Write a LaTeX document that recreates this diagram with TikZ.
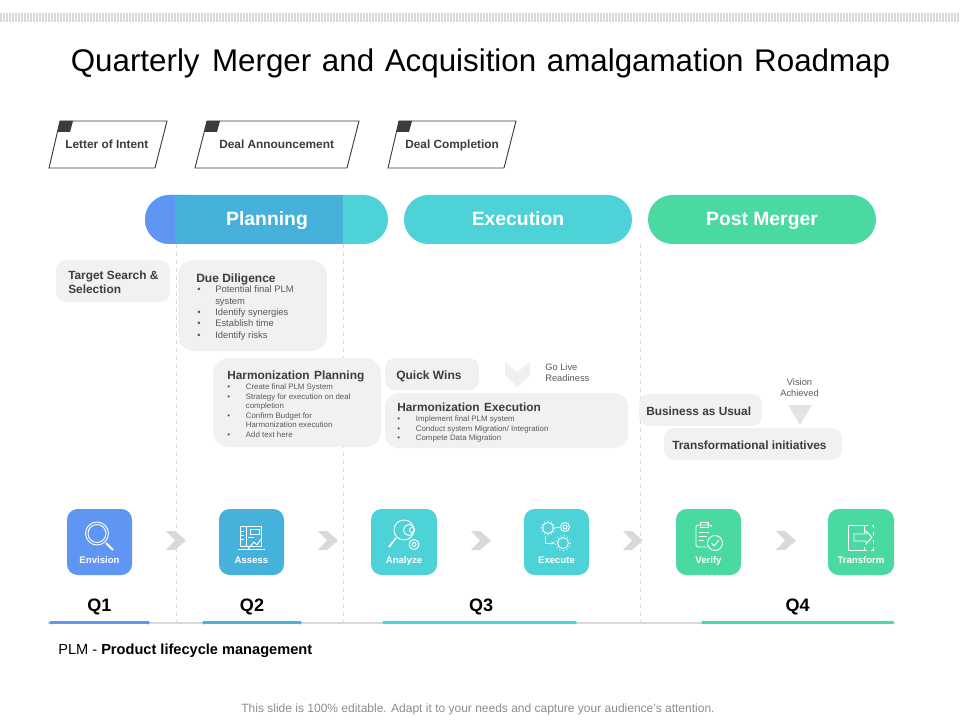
\documentclass[tikz,border=0pt]{standalone}
\usepackage{fontspec}
\setmainfont{Liberation Sans}
\usetikzlibrary{arrows.meta}
\definecolor{inkdark}{HTML}{3C3C3C}
\definecolor{inkgrey}{HTML}{595959}
\definecolor{boxgrey}{HTML}{F1F1F1}
\definecolor{chevgrey}{HTML}{D9D9D9}
\definecolor{qblue}{HTML}{5F96F3}
\definecolor{qsky}{HTML}{46B2DC}
\definecolor{qteal}{HTML}{4DD2D8}
\definecolor{qgreen}{HTML}{4BD9A2}
\tikzset{
  milestone/.style={draw=inkdark,line width=0.7pt,fill=white},
  greybox/.style={fill=boxgrey,rounded corners=7.5pt},
  card/.style={rounded corners=8pt},
  icon/.style={draw=white,line width=0.7pt},
  phaselabel/.style={anchor=base,inner sep=0pt,text=white,font=\fontsize{14.5}{16}\selectfont\bfseries},
  cardlabel/.style={anchor=base,inner sep=0pt,text=white,font=\fontsize{7.2}{8}\selectfont\bfseries},
  headlabel/.style={anchor=base west,inner sep=0pt,text=inkdark,font=\fontsize{8.9}{11}\selectfont\bfseries,align=left},
  itemlist/.style={anchor=north west,inner sep=0pt,text=inkgrey,align=left},
  quarter/.style={anchor=base,inner sep=0pt,font=\fontsize{13.5}{15}\selectfont\bfseries},
  span/.style={line width=2pt,{Diamond[length=3pt,width=3pt]}-{Diamond[length=3pt,width=3pt]}}
}
\newcommand{\itemrow}[2]{\makebox[#1][l]{\textbullet}#2}
\begin{document}
\begin{tikzpicture}[x=0.75pt,y=-0.75pt]
    \useasboundingbox (0,0) rectangle (960,720);

%Top band
    \draw[chevgrey,line width=6.5pt,dash pattern=on 1.5pt off 0.75pt] (0,17.5) -- (960,17.5);

    \node[anchor=base,inner sep=0pt] (title) at (480.5,71.5) {\fontsize{23.5}{28}\selectfont Quarterly\hspace{0.12em} Merger\hspace{0.06em} and\hspace{0.06em} Acquisition\hspace{0.06em} amalgamation\hspace{0.06em} Roadmap};

%Dashed dividers
    \coordinate (diva) at (176.5,244);
    \coordinate (divb) at (343.5,244);
    \coordinate (divc) at (640,244);
    \coordinate (divaend) at (176.5,622);
    \coordinate (divbend) at (343.5,622);
    \coordinate (divcend) at (640,622);
    \draw[chevgrey,line width=0.6pt,dashed] (diva) -- (divaend);
    \draw[chevgrey,line width=0.6pt,dashed] (divb) -- (divbend);
    \draw[chevgrey,line width=0.6pt,dashed] (divc) -- (divcend);

%Milestones
    \draw[milestone] (49,168) -- (60,121) -- (167,121) -- (155,168) -- cycle;
    \fill[inkdark] (60,121) -- (73,121) -- (70,132) -- (57.5,132) -- cycle;
    \node[headlabel] (letter) at (65,149) {Letter of Intent};

    \draw[milestone] (195,168) -- (207,121) -- (359,121) -- (347,168) -- cycle;
    \fill[inkdark] (207,121) -- (220,121) -- (217,132) -- (204.5,132) -- cycle;
    \node[headlabel] (announce) at (219,149) {Deal Announcement};

    \draw[milestone] (388,168) -- (399,121) -- (516,121) -- (504,168) -- cycle;
    \fill[inkdark] (399,121) -- (412,121) -- (409,132) -- (396.5,132) -- cycle;
    \node[headlabel] (completion) at (405,149) {Deal Completion};

%Phase bars
    \fill[qteal,rounded corners=18.3pt] (145,195) rectangle (388,244);
    \fill[qblue,rounded corners=18.3pt] (145,195) rectangle (215,244);
    \fill[qsky] (175,195) rectangle (343,244);
    \node[phaselabel] (planning) at (267,226) {Planning};

    \fill[qteal,rounded corners=18.3pt] (404,195) rectangle (632,244);
    \node[phaselabel] (execution) at (518,226) {Execution};

    \fill[qgreen,rounded corners=18.3pt] (648,195) rectangle (876,244);
    \node[phaselabel] (postmerger) at (762,226) {Post Merger};

%Planning boxes
    \fill[greybox] (56,260) rectangle (170,302);
    \node[headlabel,anchor=west,font=\fontsize{8.9}{10.6}\selectfont\bfseries] (target) at (68,282) {Target Search \&\\Selection};

    \fill[greybox,rounded corners=12pt] (178,260) rectangle (327,351);
    \node[headlabel,font=\fontsize{9}{11}\selectfont\bfseries] (diligence) at (196,282) {Due Diligence};
    \node[itemlist,font=\fontsize{7.05}{8.6}\selectfont] (diligencelist) at (197,285.5) {\itemrow{13.5pt}{Potential final PLM}\\\hspace{13.5pt}system\\\itemrow{13.5pt}{Identify synergies}\\\itemrow{13.5pt}{Establish time}\\\itemrow{13.5pt}{Identify risks}};

    \fill[greybox,rounded corners=12pt] (213,358) rectangle (381,447);
    \node[headlabel,font=\fontsize{8.9}{11}\selectfont\bfseries] (harmplan) at (227,379) {Harmonization\hspace{0.1em} Planning};
    \node[itemlist,font=\fontsize{5.9}{7.1}\selectfont] (harmplanlist) at (227,384) {\itemrow{14pt}{Create final PLM System}\\\itemrow{14pt}{Strategy for execution on deal}\\\hspace{14pt}completion\\\itemrow{14pt}{Confirm Budget for}\\\hspace{14pt}Harmonization execution\\\itemrow{14pt}{Add text here}};

%Execution boxes
    \fill[greybox] (385,358) rectangle (479,390);
    \node[headlabel,font=\fontsize{9}{11}\selectfont\bfseries] (quickwins) at (396,379.5) {Quick Wins};

    \fill[chevgrey,opacity=0.4] (505,362) -- (517.5,372) -- (530,362) -- (530,375) -- (517.5,387) -- (505,375) -- cycle;
    \node[itemlist,font=\fontsize{7}{8.6}\selectfont] (golive) at (545,363.5) {Go Live\\Readiness};

    \fill[greybox,rounded corners=10pt] (385,393) rectangle (628,448);
    \node[headlabel,font=\fontsize{8.9}{11}\selectfont\bfseries] (harmexec) at (397,411) {Harmonization\hspace{0.1em} Execution};
    \node[itemlist,font=\fontsize{5.9}{7.2}\selectfont] (harmexeclist) at (397,415.5) {\itemrow{14pt}{Implement final PLM system}\\\itemrow{14pt}{Conduct system Migration/ Integration}\\\itemrow{14pt}{Compete Data Migration}};

%Post merger boxes
    \fill[greybox] (639,394) rectangle (762,426);
    \node[headlabel,font=\fontsize{8.9}{11}\selectfont\bfseries] (business) at (646,415.5) {Business as Usual};

    \node[font=\fontsize{7}{8.6}\selectfont,align=center,text=inkgrey,inner sep=0pt] (vision) at (799.5,387.5) {Vision\\Achieved};
    \fill[chevgrey,opacity=0.7] (788,405) -- (812,405) -- (800,425) -- cycle;

    \fill[greybox] (664,428) rectangle (842,460);
    \node[headlabel,font=\fontsize{8.9}{11}\selectfont\bfseries] (transformational) at (672,449) {Transformational initiatives};

%Cards
    \fill[qblue,card] (67,509) rectangle (132,575);
    \fill[qsky,card] (219,509) rectangle (284,575);
    \fill[qteal,card] (371,509) rectangle (437,575);
    \fill[qteal,card] (524,509) rectangle (589,575);
    \fill[qgreen,card] (676,509) rectangle (741,575);
    \fill[qgreen,card] (828,509) rectangle (894,575);

    \node[cardlabel] (envision) at (99.5,563) {Envision};
    \node[cardlabel] (assess) at (251.5,563) {Assess};
    \node[cardlabel] (analyze) at (404,563) {Analyze};
    \node[cardlabel] (execute) at (556.5,563) {Execute};
    \node[cardlabel] (verify) at (708.5,563) {Verify};
    \node[cardlabel] (transform) at (861,563) {Transform};

%Card icons
    \draw[icon] (97,533.5) circle (11.5);
    \draw[icon] (97,533.5) circle (9);
    \draw[icon,line width=1.4pt] (106,543) -- (113,550);

    \draw[icon] (240,526) rectangle (261,546);
    \draw[icon] (246,526) -- (246,546);
    \draw[icon] (250,529) rectangle (259,534);
    \draw[icon] (248,537) -- (254,537);
    \draw[icon] (238,549) -- (265,549);
    \draw[icon] (248,549) -- (254,542) -- (257,545) -- (261,539);
    \draw[icon] (241,531) -- (244,531);
    \draw[icon] (241,535) -- (244,535);
    \draw[icon] (241,539) -- (244,539);

    \draw[icon] (404,530) circle (10);
    \draw[icon] (409,530) circle (5.5);
    \draw[icon] (412,530) circle (2.5);
    \draw[icon,line width=1.3pt] (396,538) -- (389,547);
    \draw[icon] (414,544.5) circle (5);
    \draw[icon] (414,544.5) circle (2);

    \draw[icon] (548,528) circle (5.5);
    \draw[icon,dotted] (548,528) circle (7);
    \draw[icon] (565,527) circle (4.5);
    \draw[icon] (565,527) circle (2);
    \draw[icon] (555.5,527.5) -- (560,527.5);
    \draw[icon,-{Stealth[length=3pt]}] (545,536) -- (545,543) -- (555,543);
    \draw[icon] (563,543) circle (5.5);
    \draw[icon,dotted] (563,543) circle (7.5);

    \draw[icon,rounded corners=1.5pt] (712,527) -- (712,525) -- (696,525) -- (696,547) -- (707,547);
    \draw[icon] (700,522) rectangle (708,527);
    \draw[icon] (699,532) -- (709,532);
    \draw[icon] (699,536) -- (707,536);
    \draw[icon] (699,540) -- (704,540);
    \draw[icon] (715,543) circle (7.5);
    \draw[icon] (711.5,543) -- (714,546) -- (719,540);

    \draw[icon] (848,525) -- (848,550) -- (864,550) -- (864,547);
    \draw[icon] (848,525) -- (864,525) -- (864,533);
    \draw[icon,dashed] (864,525) -- (873,525) -- (873,550) -- (864,550);
    \draw[icon] (854,534) -- (866,534) -- (866,531) -- (872,537.5) -- (866,544) -- (866,541) -- (854,541) -- cycle;

%Chevrons
    \fill[chevgrey] (166,531) -- (175,531) -- (186,540.5) -- (175,550) -- (166,550) -- (175,540.5) -- cycle;
    \fill[chevgrey] (318,531) -- (327,531) -- (338,540.5) -- (327,550) -- (318,550) -- (327,540.5) -- cycle;
    \fill[chevgrey] (471,531) -- (480,531) -- (491,540.5) -- (480,550) -- (471,550) -- (480,540.5) -- cycle;
    \fill[chevgrey] (623,531) -- (632,531) -- (643,540.5) -- (632,550) -- (623,550) -- (632,540.5) -- cycle;
    \fill[chevgrey] (776,531) -- (785,531) -- (796,540.5) -- (785,550) -- (776,550) -- (785,540.5) -- cycle;

%Quarters
    \node[quarter] (qone) at (99.5,611.5) {Q1};
    \node[quarter] (qtwo) at (252,611.5) {Q2};
    \node[quarter] (qthree) at (481,611.5) {Q3};
    \node[quarter] (qfour) at (797.5,611.5) {Q4};

%Timeline
    \coordinate (linestart) at (48,622.5);
    \coordinate (lineend) at (895,622.5);
    \coordinate (qonea) at (49,622.5);
    \coordinate (qoneb) at (150,622.5);
    \coordinate (qtwoa) at (202,622.5);
    \coordinate (qtwob) at (302,622.5);
    \coordinate (qthreea) at (382,622.5);
    \coordinate (qthreeb) at (577,622.5);
    \coordinate (qfoura) at (701,622.5);
    \coordinate (qfourb) at (894,622.5);
    \draw[chevgrey,line width=1.5pt] (linestart) -- (lineend);
    \draw[span,qblue] (qonea) -- (qoneb);
    \draw[span,qsky] (qtwoa) -- (qtwob);
    \draw[span,qteal] (qthreea) -- (qthreeb);
    \draw[span,qgreen] (qfoura) -- (qfourb);

    \node[anchor=base west,inner sep=0pt,font=\fontsize{10.95}{12}\selectfont] (plm) at (58,654.5) {PLM - \textbf{Product lifecycle management}};

    \node[anchor=base,inner sep=0pt,text=gray!90,font=\fontsize{9}{10}\selectfont] (footer) at (478,712) {This slide is 100\% editable. Adapt it to your needs and capture your audience's attention.};

\end{tikzpicture}
\end{document}
